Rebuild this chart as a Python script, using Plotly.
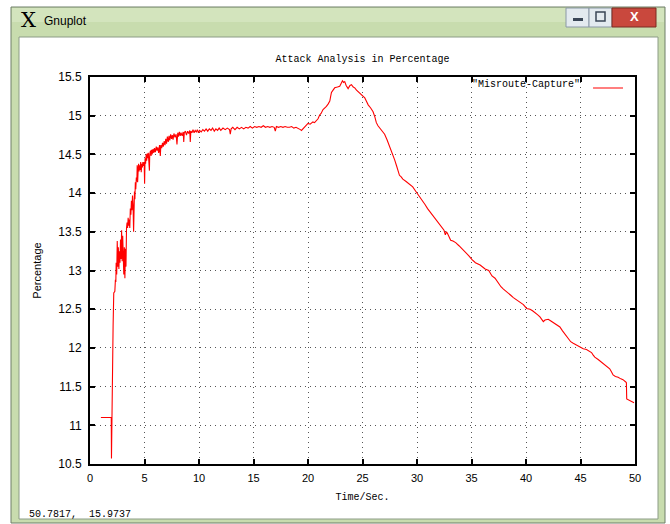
import plotly.graph_objects as go

# ---------------- data ----------------
time_sec = [
    1.00, 1.95, 1.97, 2.08, 2.12, 2.18, 2.28, 2.33, 2.37, 2.40, 2.45, 2.50, 2.55, 2.60, 2.65,
    2.70, 2.75, 2.80, 2.85, 2.90, 2.95, 3.00, 3.05, 3.10, 3.15, 3.20, 3.25, 3.30, 3.35, 3.40,
    3.45, 3.50, 3.55, 3.60, 3.65, 3.70, 3.75, 3.80, 3.85, 3.90, 3.95, 4.00, 4.03, 4.08, 4.12,
    4.16, 4.20, 4.25, 4.30, 4.33, 4.37, 4.42, 4.46, 4.50, 4.55, 4.60, 4.65, 4.70, 4.75, 4.80,
    4.85, 4.92, 4.97, 5.01, 5.05, 5.10, 5.15, 5.20, 5.25, 5.30, 5.35, 5.40, 5.45, 5.48, 5.55,
    5.60, 5.65, 5.70, 5.78, 5.85, 5.92, 6.00, 6.08, 6.15, 6.22, 6.30, 6.38, 6.45, 6.50, 6.58,
    6.65, 6.72, 6.80, 6.88, 6.95, 7.02, 7.10, 7.18, 7.25, 7.32, 7.40, 7.48, 7.55, 7.62, 7.70,
    7.80, 7.90, 7.98, 8.05, 8.12, 8.20, 8.28, 8.35, 8.45, 8.55, 8.60, 8.65, 8.75, 8.85, 8.95,
    9.05, 9.15, 9.20, 9.25, 9.35, 9.45, 9.55, 9.65, 9.75, 9.85, 9.95, 10.05, 10.20, 10.35, 10.50,
    10.65, 10.80, 10.95, 11.10, 11.25, 11.40, 11.55, 11.70, 11.85, 12.00, 12.20, 12.40, 12.60, 12.80, 12.87,
    12.95, 13.10, 13.30, 13.50, 13.70, 13.90, 14.10, 14.30, 14.50, 14.70, 14.90, 15.10, 15.30, 15.50, 15.70,
    15.90, 16.10, 16.30, 16.50, 16.70, 16.90, 17.00, 17.10, 17.30, 17.50, 17.70, 17.90, 18.10, 18.30, 18.50,
    18.70, 18.90, 19.10, 19.30, 19.40, 19.55, 19.70, 19.85, 20.00, 20.20, 20.45, 20.60, 20.77, 20.92, 21.07,
    21.20, 21.38, 21.55, 21.69, 21.84, 22.00, 22.08, 22.15, 22.30, 22.45, 22.70, 22.91, 23.05, 23.16, 23.27,
    23.37, 23.50, 23.68, 23.85, 23.99, 24.15, 24.29, 24.45, 24.60, 24.76, 24.91, 25.05, 25.21, 25.35, 25.52,
    25.75, 25.97, 26.12, 26.27, 26.42, 26.58, 26.80, 27.03, 27.25, 27.48, 27.65, 27.79, 27.95, 28.13, 28.25,
    28.39, 28.55, 28.70, 29.00, 29.30, 29.61, 29.85, 30.06, 30.30, 30.52, 30.75, 30.97, 31.35, 31.73, 31.95,
    32.18, 32.35, 32.48, 32.60, 32.70, 32.79, 32.95, 33.09, 33.30, 33.55, 33.85, 34.15, 34.45, 34.76, 35.05,
    35.36, 35.79, 36.25, 36.58, 36.71, 36.88, 37.16, 37.47, 37.70, 37.93, 38.15, 38.38, 38.60, 38.84, 39.07,
    39.30, 39.53, 39.76, 40.06, 40.37, 40.60, 40.82, 41.05, 41.28, 41.45, 41.59, 41.74, 42.04, 42.25, 42.50,
    42.80, 43.11, 43.35, 43.57, 43.72, 43.87, 44.10, 44.33, 44.60, 44.94, 45.25, 45.55, 45.80, 46.01, 46.15,
    46.31, 46.62, 46.90, 47.23, 47.45, 47.68, 47.85, 47.99, 48.20, 48.45, 48.70, 48.90, 49.15, 49.21, 49.24,
    49.51, 49.91,
]
percentage = [
    11.10, 11.10, 10.57, 12.29, 12.29, 12.71, 12.73, 12.88, 12.85, 13.10, 12.95, 13.38, 13.05, 13.30, 13.02,
    13.25, 13.10, 13.40, 13.15, 13.52, 13.12, 13.45, 13.20, 12.95, 13.30, 12.90, 13.28, 13.05, 13.55, 13.62,
    13.55, 13.68, 13.58, 13.66, 13.55, 13.80, 13.72, 13.90, 13.78, 13.97, 13.85, 13.50, 13.95, 14.02, 13.92,
    14.14, 14.05, 14.20, 14.15, 14.36, 14.14, 14.30, 14.38, 14.28, 14.36, 14.30, 14.40, 14.27, 14.38, 14.33,
    14.40, 14.35, 14.40, 14.12, 14.45, 14.38, 14.50, 14.42, 14.51, 14.45, 14.52, 14.40, 14.29, 14.50, 14.55,
    14.48, 14.56, 14.50, 14.57, 14.52, 14.58, 14.53, 14.60, 14.55, 14.59, 14.52, 14.62, 14.48, 14.62, 14.58,
    14.65, 14.60, 14.67, 14.62, 14.70, 14.64, 14.73, 14.66, 14.74, 14.68, 14.76, 14.70, 14.75, 14.69, 14.77,
    14.72, 14.76, 14.63, 14.78, 14.73, 14.79, 14.74, 14.78, 14.74, 14.79, 14.66, 14.78, 14.80, 14.75, 14.80,
    14.77, 14.81, 14.66, 14.80, 14.78, 14.82, 14.78, 14.81, 14.79, 14.82, 14.78, 14.81, 14.79, 14.82, 14.80,
    14.83, 14.80, 14.83, 14.81, 14.84, 14.80, 14.83, 14.81, 14.84, 14.81, 14.84, 14.82, 14.84, 14.82, 14.76,
    14.83, 14.85, 14.82, 14.85, 14.83, 14.85, 14.83, 14.85, 14.84, 14.86, 14.84, 14.86, 14.85, 14.86, 14.85,
    14.87, 14.85, 14.86, 14.85, 14.86, 14.85, 14.80, 14.86, 14.85, 14.86, 14.85, 14.86, 14.85, 14.85, 14.86,
    14.84, 14.85, 14.84, 14.82, 14.81, 14.83, 14.85, 14.87, 14.90, 14.89, 14.92, 14.91, 14.93, 14.96, 15.01,
    15.03, 15.08, 15.10, 15.12, 15.15, 15.19, 15.25, 15.30, 15.33, 15.36, 15.37, 15.38, 15.42, 15.45, 15.43,
    15.44, 15.39, 15.35, 15.39, 15.40, 15.37, 15.36, 15.33, 15.31, 15.29, 15.28, 15.26, 15.23, 15.19, 15.14,
    15.10, 15.05, 14.99, 14.91, 14.87, 14.84, 14.80, 14.76, 14.69, 14.61, 14.55, 14.49, 14.43, 14.35, 14.29,
    14.23, 14.21, 14.18, 14.15, 14.12, 14.08, 14.03, 13.99, 13.94, 13.90, 13.85, 13.80, 13.73, 13.67, 13.63,
    13.58, 13.55, 13.52, 13.46, 13.50, 13.48, 13.43, 13.39, 13.38, 13.36, 13.32, 13.28, 13.23, 13.19, 13.14,
    13.10, 13.07, 13.02, 13.00, 12.96, 12.93, 12.90, 12.83, 12.79, 12.76, 12.73, 12.71, 12.68, 12.65, 12.63,
    12.61, 12.58, 12.56, 12.51, 12.50, 12.48, 12.46, 12.43, 12.40, 12.37, 12.34, 12.36, 12.37, 12.35, 12.33,
    12.30, 12.27, 12.22, 12.18, 12.14, 12.11, 12.08, 12.06, 12.04, 12.01, 11.99, 11.98, 11.96, 11.94, 11.91,
    11.88, 11.85, 11.82, 11.79, 11.76, 11.73, 11.69, 11.65, 11.63, 11.62, 11.60, 11.59, 11.56, 11.55, 11.34,
    11.32, 11.29,
]
x_ticks = [0, 5, 10, 15, 20, 25, 30, 35, 40, 45, 50]
y_ticks = [10.5, 11, 11.5, 12, 12.5, 13, 13.5, 14, 14.5, 15, 15.5]
series_name = '"Misroute-Capture"'
chart_title = "Attack Analysis in Percentage"
x_label = "Time/Sec."
y_label = "Percentage"
window_title = "Gnuplot"
status_text = "50.7817,  15.9737"

# ---------------- geometry helpers (pixel -> paper) ----------------
W, H = 670, 524
ML, MR, MT, MB = 90, 35, 77, 60
PW = W - ML - MR
PH = H - MT - MB


def pxx(p):
    return (p - ML) / PW


def pxy(p):
    return (H - MB - p) / PH


def rect(x0, y0, x1, y1, fill, line=None, lw=1):
    return dict(type="rect", xref="paper", yref="paper", layer="below",
                x0=pxx(x0), x1=pxx(x1), y0=pxy(y1), y1=pxy(y0),
                fillcolor=fill, line=dict(color=line or fill, width=lw if line else 0))


mono = "Liberation Mono"
sans = "Liberation Sans"

shapes = [
    # window frame (aero green)
    rect(11, 7, 665, 523, "#c8dcae", "#6f7f69", 1),
    rect(12, 8, 664, 22, "#d3e4bd"),
    # client area
    rect(19, 37, 658, 519, "#ffffff", "#8c9c86", 1),
    # caption buttons
    rect(566, 8, 589, 27, "#e3eaef", "#8a98a6", 1),
    rect(589, 8, 612, 27, "#e3eaef", "#8a98a6", 1),
    rect(612, 8, 656, 27, "#c9483d", "#7a2a22", 1),
    # minimize glyph
    rect(573, 18, 583, 21, "#3a4656"),
    # maximize glyph
    rect(596, 12, 605, 21, "rgba(0,0,0,0)", "#3a4656", 1.5),
]

annotations = [
    dict(text="X", x=pxx(28), y=pxy(20), xref="paper", yref="paper", showarrow=False,
         font=dict(family="DejaVu Serif", size=21, color="#000000"), xanchor="center", yanchor="middle"),
    dict(text=window_title, x=pxx(42), y=pxy(21), xref="paper", yref="paper", showarrow=False,
         font=dict(family=sans, size=12, color="#000000"), xanchor="left", yanchor="middle"),
    dict(text="<b>X</b>", x=pxx(634), y=pxy(17), xref="paper", yref="paper", showarrow=False,
         font=dict(family=sans, size=13, color="#ffffff"), xanchor="center", yanchor="middle"),
    dict(text=status_text, x=pxx(27), y=pxy(514), xref="paper", yref="paper", showarrow=False,
         font=dict(family=mono, size=10, color="#000000"), xanchor="left", yanchor="middle"),
]

fig = go.Figure()
fig.add_trace(go.Scatter(x=time_sec, y=percentage, mode="lines", name="",
                         line=dict(color="#ff0000", width=1.1), showlegend=True))

axis_common = dict(
    showline=True, linecolor="#000000", linewidth=2, mirror="ticks",
    ticks="inside", ticklen=5, tickwidth=1.5, tickcolor="#000000",
    showgrid=True, gridcolor="#555555", gridwidth=1, griddash="1px,4px",
    zeroline=False,
)

fig.update_layout(
    width=W, height=H,
    margin=dict(l=ML, r=MR, t=MT, b=MB, pad=0),
    paper_bgcolor="#ffffff", plot_bgcolor="rgba(0,0,0,0)",
    title=dict(text=chart_title, x=0.5, xref="paper", y=1 - 58 / H, yref="container",
               xanchor="center", yanchor="middle", font=dict(family=mono, size=10, color="#000000")),
    xaxis=dict(range=[0, 50], tickvals=x_ticks, tickfont=dict(family=sans, size=11, color="#000000"),
               ticklabelstandoff=3,
               title=dict(text=x_label, font=dict(family=mono, size=10, color="#000000"), standoff=10),
               **axis_common),
    yaxis=dict(range=[10.5, 15.5], tickvals=y_ticks, tickfont=dict(family=sans, size=12, color="#000000"),
               ticklabelstandoff=4,
               title=dict(text=y_label, font=dict(family=sans, size=11, color="#000000"), standoff=14),
               **axis_common),
    showlegend=True,
    legend=dict(title=dict(text=series_name, side="left", font=dict(family=mono, size=10, color="#000000")),
                x=pxx(634), xanchor="right", y=pxy(88), yanchor="middle",
                bgcolor="rgba(0,0,0,0)", borderwidth=0, itemwidth=30,
                font=dict(family=mono, size=10, color="#000000")),
    shapes=shapes,
    annotations=annotations,
)

fig.write_html("out.html")
